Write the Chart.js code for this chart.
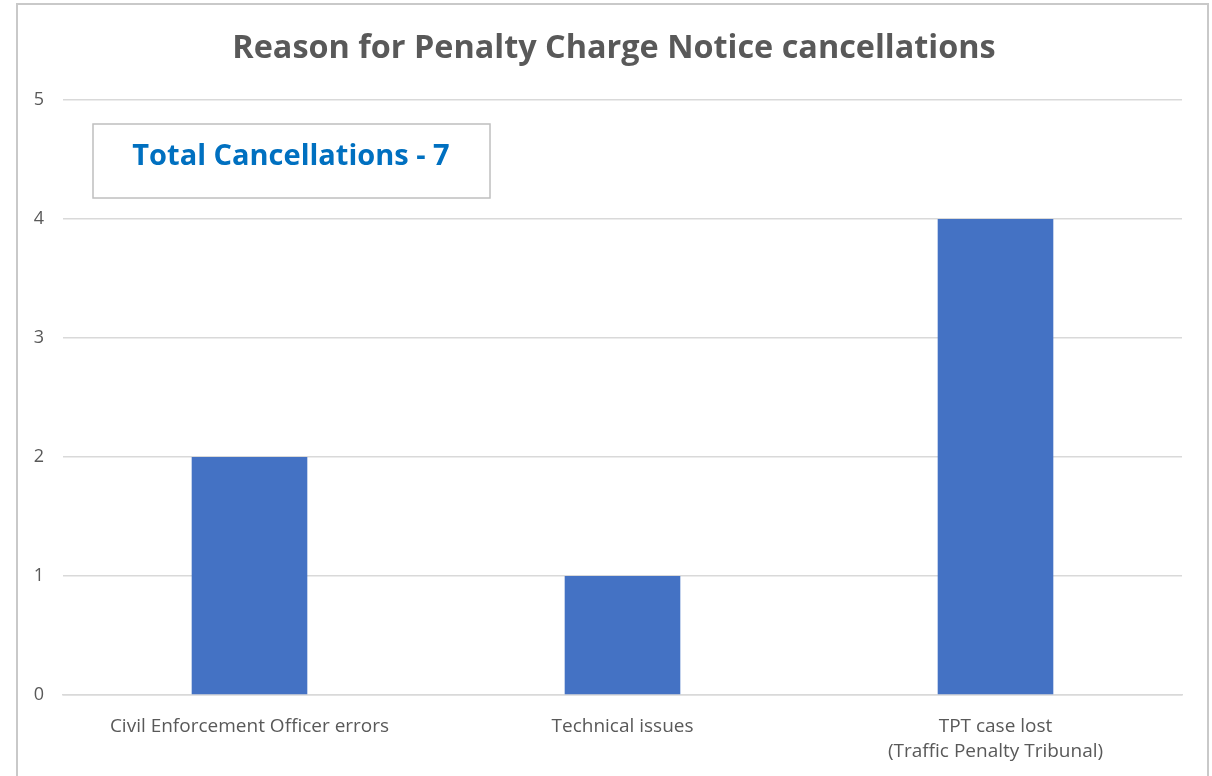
<!DOCTYPE html>
<html>
<head>
<meta charset="utf-8">
<script src="https://cdn.jsdelivr.net/npm/chart.js@4.4.1/dist/chart.umd.min.js"></script>
<style>
  html, body { margin: 0; padding: 0; background: #fff; }
  #wrap { position: relative; width: 1212px; height: 776px; overflow: hidden; }
  #frame { position: absolute; left: 16px; top: 3px; width: 1193px; height: 800px; border: 2px solid #c9c9c9; box-sizing: border-box; }
</style>
</head>
<body>
<div id="wrap">
  <div id="frame"></div>
  <canvas id="chart" width="1212" height="776"></canvas>
</div>
<script>
const categories = [
  'Civil Enforcement Officer errors',
  'Technical issues',
  ['TPT case lost', '(Traffic Penalty Tribunal)']
]
const cancellations = [2, 1, 4]
const yTicks = [0, 1, 2, 3, 4, 5]
const totalNote = 'Total Cancellations - 7'

const FONT = '"Open Sans", sans-serif'

// caja con el total, dibujada encima del grafico
const notePlugin = {
  id: 'note',
  afterDraw(chart) {
    const ctx = chart.ctx
    ctx.save()
    ctx.strokeStyle = '#bfbfbf'
    ctx.lineWidth = 1.5
    ctx.fillStyle = '#fff'
    ctx.fillRect(93, 124, 397, 74)
    ctx.strokeRect(93, 124, 397, 74)
    ctx.fillStyle = '#0070c0'
    ctx.font = 'bold 29px ' + FONT
    ctx.textAlign = 'center'
    ctx.textBaseline = 'middle'
    ctx.fillText(totalNote, 291, 157)
    ctx.restore()
  }
}

window.addEventListener('load', () => {
  const canvas = document.getElementById('chart')
  new Chart(canvas.getContext('2d'), {
    type: 'bar',
    data: {
      labels: categories,
      datasets: [{
        label: 'Cancellations',
        data: cancellations,
        backgroundColor: '#4472c4',
        borderWidth: 0,
        categoryPercentage: 1,
        barPercentage: 0.31
      }]
    },
    options: {
      responsive: false,
      animation: false,
      layout: { padding: { left: 20, right: 4, top: 0, bottom: 13 } },
      plugins: {
        legend: { display: false },
        tooltip: { enabled: false },
        title: {
          display: true,
          text: 'Reason for Penalty Charge Notice cancellations',
          color: '#595959',
          font: { family: FONT, size: 32.4, weight: 'bold', lineHeight: 1.2 },
          padding: { top: 29, bottom: 32.1 }
        }
      },
      scales: {
        x: {
          afterFit: (scale) => { scale.height = 68 },
          grid: { display: false, drawTicks: false },
          border: { display: true, color: '#d9d9d9', width: 1.5 },
          ticks: {
            color: '#595959',
            padding: 19,
            maxRotation: 0,
            autoSkip: false,
            font: { family: FONT, size: 19, lineHeight: 1.32 }
          }
        },
        y: {
          min: 0,
          max: 5,
          afterFit: (scale) => { scale.width = 43 },
          afterBuildTicks: (scale) => { scale.ticks = yTicks.map(v => ({ value: v })) },
          grid: { color: '#d9d9d9', lineWidth: 1.5, drawTicks: false },
          border: { display: false },
          ticks: {
            color: '#595959',
            padding: 19,
            font: { family: FONT, size: 18 }
          }
        },
        // eje vacio a la derecha, solo para reservar el margen
        yRight: {
          position: 'right',
          min: 0,
          max: 5,
          afterFit: (scale) => { scale.width = 26 },
          grid: { display: false, drawTicks: false },
          border: { display: false },
          ticks: { display: false }
        }
      }
    },
    plugins: [notePlugin]
  })
})
</script>
</body>
</html>
